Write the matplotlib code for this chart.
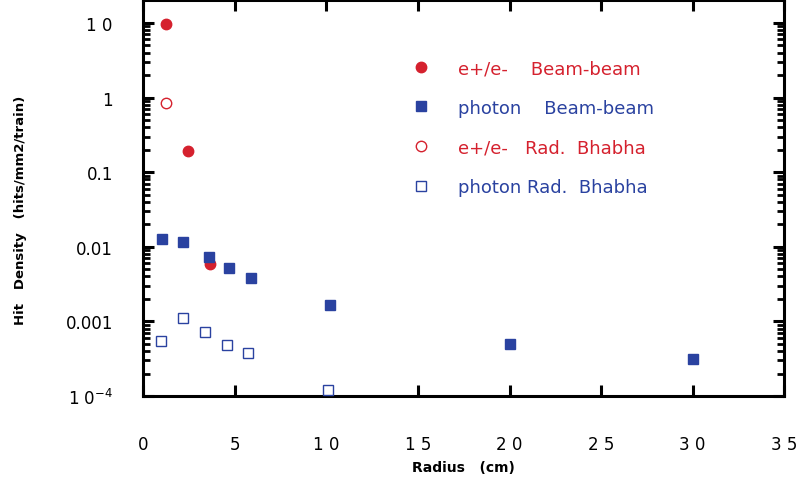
import matplotlib
matplotlib.use('Agg')
import matplotlib.pyplot as plt
from matplotlib.ticker import FixedLocator, LogLocator, NullFormatter

plt.rcParams['font.family'] = ['DejaVu Sans']
plt.rcParams['mathtext.fontset'] = 'dejavusans'

# e+/e- from beam-beam interaction
ee_bb_r = [1.25, 2.45, 3.63]
ee_bb_d = [9.7, 0.19, 0.0058]

# photons from beam-beam interaction
ph_bb_r = [1.03, 2.17, 3.6, 4.69, 5.86, 10.19, 20.0, 30.0]
ph_bb_d = [0.0126, 0.0115, 0.0072, 0.0052, 0.00385, 0.00166, 0.0005, 0.000316]

# e+/e- from radiative Bhabha
ee_rb_r = [1.25]
ee_rb_d = [0.84]

# photons from radiative Bhabha
ph_rb_r = [0.96, 2.17, 3.34, 4.56, 5.71, 10.06]
ph_rb_d = [0.00054, 0.00112, 0.00073, 0.00048, 0.00038, 0.000122]

x_ticks = [0, 5, 10, 15, 20, 25, 30, 35]
x_labels = ['0', '5', '1 0', '1 5', '2 0', '2 5', '3 0', '3 5']
y_ticks = [1e-4, 1e-3, 1e-2, 1e-1, 1, 10]
y_labels = [r'1 0$^{-4}$', '0.001', '0.01', '0.1', '1', '1 0']

red = '#d5212e'
blue = '#2a42a0'

fig = plt.figure(figsize=(8.01, 4.81), dpi=100)
ax = fig.add_axes([0.179, 0.1746, 0.8, 0.8224])

ax.plot(ee_bb_r, ee_bb_d, 'o', color=red, ms=7.5, mec=red, ls='none',
        label='e+/e-    Beam-beam', zorder=3)
ax.plot(ph_bb_r, ph_bb_d, 's', color=blue, ms=6.5, mec=blue, ls='none',
        label='photon    Beam-beam', zorder=4)
ax.plot(ee_rb_r, ee_rb_d, 'o', mfc='white', mec=red, mew=1.0, ms=7.5, ls='none',
        label='e+/e-   Rad.  Bhabha', zorder=3)
ax.plot(ph_rb_r, ph_rb_d, 's', mfc='white', mec=blue, mew=1.0, ms=6.5, ls='none',
        label='photon Rad.  Bhabha', zorder=4)

ax.set_yscale('log')
ax.set_xlim(0, 35)
ax.set_ylim(1e-4, 20)

ax.xaxis.set_major_locator(FixedLocator(x_ticks))
ax.set_xticklabels(x_labels)
ax.yaxis.set_major_locator(FixedLocator(y_ticks))
ax.set_yticklabels(y_labels)
ax.yaxis.set_minor_locator(LogLocator(base=10, subs=range(2, 10), numticks=20))
ax.yaxis.set_minor_formatter(NullFormatter())

for s in ax.spines.values():
    s.set_linewidth(2.2)

ax.tick_params(axis='both', which='major', direction='in', length=8, width=2.2,
               top=True, right=True, labelsize=12)
ax.tick_params(axis='y', which='minor', direction='in', length=5, width=2.0,
               left=True, right=True)
ax.tick_params(axis='x', which='major', pad=28)
ax.tick_params(axis='y', which='major', pad=22)

ax.set_xlabel('Radius   (cm)', fontsize=10, fontweight='bold', labelpad=5)
ax.set_ylabel('Hit   Density   (hits/mm2/train)', fontsize=9.5, fontweight='bold')
ax.yaxis.set_label_coords(-0.181, 0.473)

leg = ax.legend(loc='upper left', bbox_to_anchor=(0.394, 0.893), frameon=False,
                fontsize=13, labelspacing=1.2, handletextpad=1.55,
                labelcolor=[red, blue, red, blue], handlelength=1.0)

fig.savefig('out.png', dpi=100)
